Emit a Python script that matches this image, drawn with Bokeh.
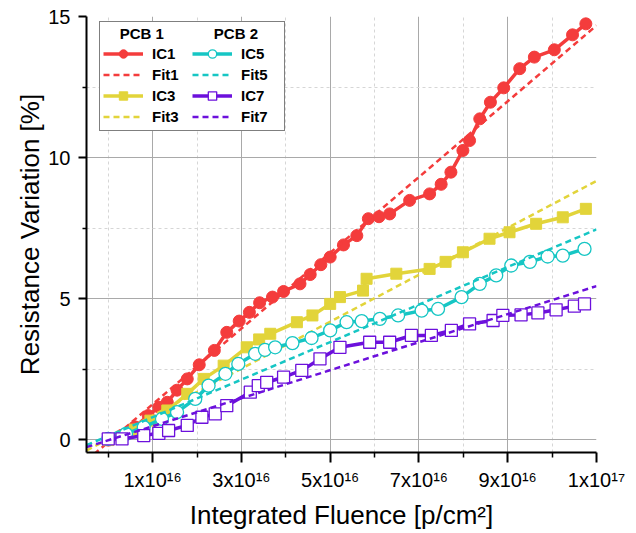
from bokeh.plotting import figure
from bokeh.models import Range1d, FixedTicker, Legend, LegendItem
from bokeh.embed import file_html
from bokeh.resources import INLINE

# ---- data (fluence in units of 1e16 p/cm^2, resistance variation in %) ----
IC1_X = [0.0, 0.3, 0.6, 0.9, 1.14, 1.33, 1.55, 1.78, 2.05, 2.39, 2.67, 2.95, 3.18, 3.41,
         3.7, 3.95, 4.32, 4.55, 4.79, 5.0, 5.3, 5.6, 5.86, 6.1, 6.34, 6.79, 7.24, 7.5,
         7.72, 7.99, 8.14, 8.37, 8.61, 8.91, 9.27, 9.6, 10.05, 10.46, 10.76]
IC1_Y = [-0.02, 0.15, 0.45, 0.85, 1.15, 1.32, 1.75, 2.15, 2.65, 3.16, 3.8, 4.2, 4.51, 4.85,
         5.05, 5.25, 5.52, 5.85, 6.2, 6.47, 6.9, 7.23, 7.83, 7.9, 8.0, 8.48, 8.71, 9.05,
         9.48, 10.25, 10.6, 11.37, 11.96, 12.47, 13.15, 13.56, 13.82, 14.35, 14.74]

IC3_X = [0.0, 0.3, 0.6, 0.95, 1.33, 1.78, 2.15, 2.6, 3.12, 3.4, 3.65, 4.25, 4.6, 5.0, 5.22,
         5.74, 5.82, 6.49, 7.24, 7.6, 7.99, 8.59, 9.04, 9.64, 10.24, 10.76]
IC3_Y = [-0.02, 0.1, 0.35, 0.67, 1.03, 1.62, 2.15, 2.62, 3.27, 3.55, 3.75, 4.16, 4.4, 4.81, 5.05,
         5.28, 5.7, 5.88, 6.05, 6.3, 6.64, 7.12, 7.35, 7.65, 7.88, 8.18]

IC5_X = [0.0, 0.4, 0.8, 1.21, 1.55, 1.96, 2.26, 2.64, 2.93, 3.31, 3.53, 3.76, 4.15, 4.58, 5.0,
         5.37, 5.71, 6.12, 6.53, 7.06, 7.43, 7.96, 8.37, 8.74, 9.08, 9.5, 9.9, 10.24, 10.73]
IC5_Y = [0.02, 0.2, 0.44, 0.73, 0.97, 1.44, 1.91, 2.33, 2.68, 3.04, 3.18, 3.27, 3.42, 3.6, 3.87,
         4.16, 4.2, 4.28, 4.4, 4.57, 4.63, 5.05, 5.52, 5.82, 6.17, 6.3, 6.49, 6.52, 6.76]

IC7_X = [0.0, 0.31, 0.8, 1.14, 1.36, 1.78, 2.11, 2.41, 2.67, 3.2, 3.38, 3.57, 3.95, 4.36, 4.77,
         5.22, 5.89, 6.34, 6.83, 7.28, 7.73, 8.14, 8.67, 8.89, 9.3, 9.68, 10.09, 10.5, 10.73]
IC7_Y = [0.02, 0.02, 0.14, 0.22, 0.32, 0.5, 0.79, 0.91, 1.2, 1.68, 1.91, 2.03, 2.21, 2.45, 2.86,
         3.27, 3.45, 3.45, 3.69, 3.69, 3.87, 4.1, 4.22, 4.4, 4.42, 4.49, 4.6, 4.73, 4.81]

# linear fits, endpoints
FIT_X = [-0.49, 11.0]
FIT1_Y = [-0.75, 14.68]
FIT3_Y = [-0.39, 9.17]
FIT5_Y = [-0.20, 7.45]
FIT7_Y = [-0.27, 5.44]

X_TICKS = [1, 3, 5, 7, 9, 11]
X_TICK_LABELS = ["1x10\u00b9\u2076", "3x10\u00b9\u2076", "5x10\u00b9\u2076",
                 "7x10\u00b9\u2076", "9x10\u00b9\u2076", "1x10\u00b9\u2077"]
X_MINOR = [0, 2, 4, 6, 8, 10]
Y_TICKS = [0, 5, 10, 15]
Y_MINOR = [2.5, 7.5, 12.5]

RED = "#f43c3c"
YELLOW = "#e2d43a"
CYAN = "#16c6c4"
PURPLE = "#6c10dc"
FONT = "Liberation Sans"

p = figure(width=636, height=533, output_backend="svg", toolbar_location=None,
           x_range=Range1d(-0.49, 11.0), y_range=Range1d(-0.46, 15.0),
           min_border_left=86, min_border_right=40, min_border_top=16, min_border_bottom=81)
p.outline_line_color = None
p.background_fill_color = "white"

# axes
p.xaxis.ticker = FixedTicker(ticks=X_TICKS, minor_ticks=X_MINOR)
p.xaxis.major_label_overrides = {t: l for t, l in zip(X_TICKS, X_TICK_LABELS)}
p.yaxis.ticker = FixedTicker(ticks=Y_TICKS, minor_ticks=Y_MINOR)
for ax in (p.xaxis[0], p.yaxis[0]):
    ax.axis_line_width = 2
    ax.axis_line_color = "black"
    ax.major_tick_line_width = 2
    ax.minor_tick_line_width = 1.5
    ax.major_tick_in = 0
    ax.minor_tick_in = 0
    ax.major_label_text_font = FONT
    ax.major_label_text_font_size = "20px"
    ax.major_label_text_color = "black"
    ax.axis_label_text_font = FONT
    ax.axis_label_text_font_size = "26px"
    ax.axis_label_text_font_style = "normal"
    ax.axis_label_text_color = "black"
p.xaxis.major_tick_out = 10
p.xaxis.minor_tick_out = 5
p.yaxis.major_tick_out = 8
p.yaxis.minor_tick_out = 4
p.xaxis.major_label_standoff = 6
p.yaxis.major_label_standoff = 8
p.xaxis.axis_label = "Integrated Fluence [p/cm\u00b2]"
p.yaxis.axis_label = "Resistance Variation [%]"
p.xaxis.axis_label_standoff = 6
p.yaxis.axis_label_standoff = 0

# grids
p.xgrid.ticker = FixedTicker(ticks=[1, 3, 5, 7, 9], minor_ticks=X_MINOR)
p.ygrid.ticker = FixedTicker(ticks=[0, 5, 10], minor_ticks=Y_MINOR)
for g in (p.xgrid[0], p.ygrid[0]):
    g.grid_line_color = "#a9a9a9"
    g.grid_line_width = 1
    g.minor_grid_line_color = "#d6d6d6"
    g.minor_grid_line_dash = "3 3"
    g.minor_grid_line_width = 1

LW = 3.5
FW = 2.5
DASH = "6 4"

# IC1
l1 = p.line(IC1_X, IC1_Y, line_color=RED, line_width=LW)
m1 = p.scatter(IC1_X, IC1_Y, marker="circle", size=12, fill_color=RED, line_color=RED)
f1 = p.line(FIT_X, FIT1_Y, line_color=RED, line_width=FW, line_dash=DASH)
# IC3
l3 = p.line(IC3_X, IC3_Y, line_color=YELLOW, line_width=LW)
m3 = p.scatter(IC3_X, IC3_Y, marker="square", size=11, fill_color=YELLOW, line_color=YELLOW)
f3 = p.line(FIT_X, FIT3_Y, line_color=YELLOW, line_width=FW, line_dash=DASH)
# IC5
l5 = p.line(IC5_X, IC5_Y, line_color=CYAN, line_width=LW)
m5 = p.scatter(IC5_X, IC5_Y, marker="circle", size=13, fill_color="white", line_color=CYAN,
               line_width=1.3)
f5 = p.line(FIT_X, FIT5_Y, line_color=CYAN, line_width=FW, line_dash=DASH)
# IC7
l7 = p.line(IC7_X, IC7_Y, line_color=PURPLE, line_width=LW)
m7 = p.scatter(IC7_X, IC7_Y, marker="square", size=12, fill_color="white", line_color=PURPLE,
               line_width=1.3)
f7 = p.line(FIT_X, FIT7_Y, line_color=PURPLE, line_width=FW, line_dash=DASH)

NB = "\u00a0"
legend = Legend(
    items=[LegendItem(label="IC1", renderers=[l1, m1]),
           LegendItem(label="Fit1", renderers=[f1]),
           LegendItem(label="IC3", renderers=[l3, m3]),
           LegendItem(label="Fit3", renderers=[f3]),
           LegendItem(label="IC5", renderers=[l5, m5]),
           LegendItem(label="Fit5", renderers=[f5]),
           LegendItem(label="IC7", renderers=[l7, m7]),
           LegendItem(label="Fit7", renderers=[f7])],
    orientation="vertical", nrows=4,
    title=NB * 4 + "PCB 1" + NB * 12 + "PCB 2",
    title_text_font=FONT, title_text_font_size="15px", title_text_font_style="bold",
    title_text_color="black",
    title_standoff=1,
    label_text_font=FONT, label_text_font_size="15px", label_text_font_style="bold",
    label_text_color="black",
    glyph_width=40, glyph_height=21, label_height=21, label_width=40, label_standoff=9,
    spacing=0, padding=3, margin=0,
    border_line_color="black", border_line_width=1,
    background_fill_color="white", background_fill_alpha=1,
    location=(13, 321),
)
p.add_layout(legend)

open("out.html", "w").write(file_html(p, INLINE))
